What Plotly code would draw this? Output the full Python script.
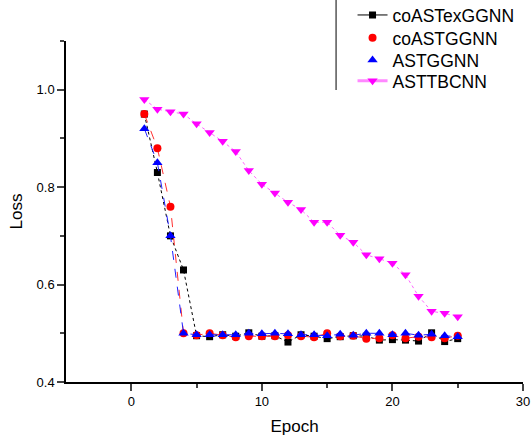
import plotly.graph_objects as go

epochs = list(range(1, 26))
coASTexGGNN = [0.95, 0.83, 0.70, 0.63, 0.495, 0.493, 0.497, 0.494, 0.501, 0.494, 0.495, 0.482, 0.497,
               0.494, 0.489, 0.493, 0.495, 0.494, 0.486, 0.487, 0.486, 0.484, 0.501, 0.483, 0.489]
coASTGGNN = [0.95, 0.88, 0.76, 0.50, 0.496, 0.50, 0.496, 0.492, 0.494, 0.494, 0.494, 0.496, 0.494,
             0.492, 0.50, 0.494, 0.495, 0.489, 0.490, 0.496, 0.490, 0.493, 0.492, 0.490, 0.495]
ASTGGNN = [0.92, 0.85, 0.70, 0.50, 0.497, 0.497, 0.497, 0.497, 0.50, 0.499, 0.50, 0.499, 0.497,
           0.497, 0.495, 0.498, 0.496, 0.50, 0.50, 0.497, 0.50, 0.496, 0.498, 0.495, 0.493]
ASTTBCNN = [0.98, 0.96, 0.955, 0.95, 0.93, 0.912, 0.894, 0.873, 0.834, 0.806, 0.788, 0.769, 0.754,
            0.728, 0.728, 0.701, 0.687, 0.661, 0.653, 0.644, 0.620, 0.576, 0.545, 0.541, 0.534]

names = ["coASTexGGNN", "coASTGGNN", "ASTGGNN", "ASTTBCNN"]
x_ticks = [0, 10, 20, 30]
y_ticks = [0.4, 0.6, 0.8, 1.0]

FONT = "Liberation Sans, Arial, sans-serif"
fig = go.Figure()

# plotted series
fig.add_trace(go.Scatter(x=epochs, y=coASTexGGNN, mode="lines+markers", showlegend=False,
                         line=dict(color="black", width=1, dash="dot"),
                         marker=dict(symbol="square", size=7, color="black")))
fig.add_trace(go.Scatter(x=epochs, y=coASTGGNN, mode="lines+markers", showlegend=False,
                         line=dict(color="#ff3030", width=1, dash="dash"),
                         marker=dict(symbol="circle", size=8, color="#ff0000")))
fig.add_trace(go.Scatter(x=epochs, y=ASTGGNN, mode="lines+markers", showlegend=False,
                         line=dict(color="#2020ff", width=1, dash="dash"),
                         marker=dict(symbol="triangle-up", size=9, color="#0000ff")))
fig.add_trace(go.Scatter(x=epochs, y=ASTTBCNN, mode="lines+markers", showlegend=False,
                         line=dict(color="#ff66ff", width=1, dash="dot"),
                         marker=dict(symbol="triangle-down", size=9, color="#ff00ff")))

# legend-only entries (one legend per row for exact spacing)
fig.add_trace(go.Scatter(x=[None], y=[None], mode="lines+markers", name=names[0], legend="legend",
                         line=dict(color="black", width=1),
                         marker=dict(symbol="square", size=7, color="black")))
fig.add_trace(go.Scatter(x=[None], y=[None], mode="markers", name=names[1], legend="legend2",
                         marker=dict(symbol="circle", size=8, color="#ff0000")))
fig.add_trace(go.Scatter(x=[None], y=[None], mode="markers", name=names[2], legend="legend3",
                         marker=dict(symbol="triangle-up", size=9, color="#0000ff")))
fig.add_trace(go.Scatter(x=[None], y=[None], mode="lines+markers", name=names[3], legend="legend4",
                         line=dict(color="#ff88ff", width=3),
                         marker=dict(symbol="triangle-down", size=9, color="#ff00ff")))

def leg(y):
    return dict(x=0.627, y=y, xanchor="left", yanchor="middle", bgcolor="rgba(0,0,0,0)",
                font=dict(size=17.5, family=FONT, color="black"), itemsizing="trace")

fig.update_layout(
    width=531, height=438,
    margin=dict(l=66, r=8, t=41, b=56, autoexpand=False),
    paper_bgcolor="white", plot_bgcolor="white",
    font=dict(family=FONT, color="black", size=13),
    legend=leg(1.076), legend2=leg(1.009), legend3=leg(0.944), legend4=leg(0.883),
    shapes=[dict(type="line", xref="paper", yref="paper", x0=0.591, x1=0.591, y0=0.856, y1=1.12,
                 line=dict(color="#555555", width=1.5))],
)
fig.update_xaxes(range=[-5, 30], tickvals=x_ticks, ticks="outside", ticklen=7, tickwidth=1.5,
                 showline=True, linecolor="black", linewidth=1.5, showgrid=False, zeroline=False,
                 tickfont=dict(size=13), ticklabeloverflow="allow",
                 title=dict(text="Epoch", font=dict(size=17), standoff=12),
                 minor=dict(tickvals=[5, 15, 25], ticks="outside", ticklen=4, tickwidth=1.5))
fig.update_yaxes(range=[0.4, 1.1], tickvals=y_ticks, tickformat=".1f", ticks="outside", ticklen=7,
                 tickwidth=1.5, showline=True, linecolor="black", linewidth=1.5, showgrid=False,
                 zeroline=False, tickfont=dict(size=13),
                 title=dict(text="Loss", font=dict(size=17), standoff=10),
                 minor=dict(tickvals=[0.5, 0.7, 0.9, 1.1], ticks="outside", ticklen=4, tickwidth=1.5))

fig.write_html("out.html", config={"displayModeBar": False},
               post_script="document.body.style.margin='0';document.body.style.overflow='hidden';")
